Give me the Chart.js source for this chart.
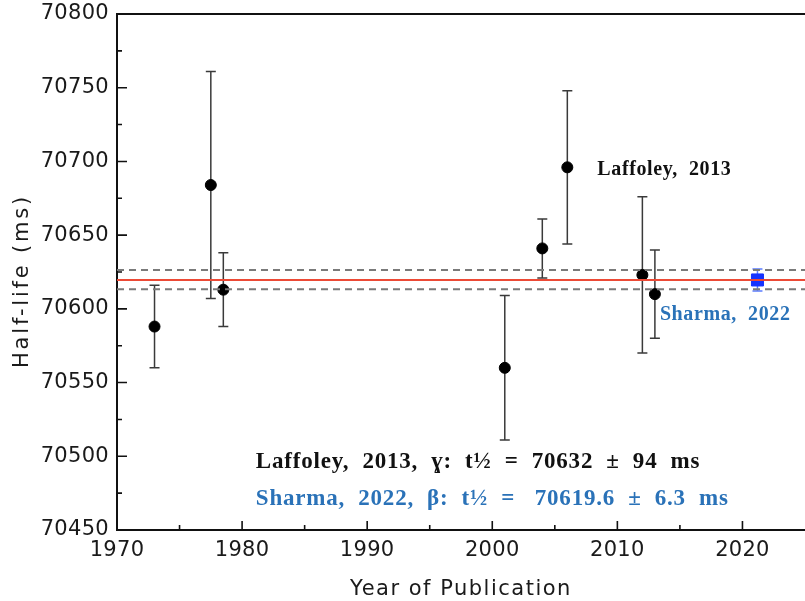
<!DOCTYPE html>
<html>
<head>
<meta charset="utf-8">
<script src="https://cdn.jsdelivr.net/npm/chart.js@4.4.0/dist/chart.umd.min.js"></script>
<style>
  html, body { margin:0; padding:0; background:#fff; }
  #wrap { width:805px; height:601px; position:relative; }
</style>
</head>
<body>
<div id="wrap"><canvas id="c"></canvas></div>
<script>
// measurements (year, half-life, 1-sigma)
const years      = [1973, 1977.5, 1978.5, 2001, 2004, 2006, 2012, 2013];
const halfLives  = [70588, 70684, 70613, 70560, 70641, 70696, 70623, 70610];
const errors     = [28, 77, 25, 49, 20, 52, 53, 30];

// new result
const sharmaYear  = [2021.2];
const sharmaValue = [70619.6];
const sharmaError = [7.5];

// average band
const avgValue = 70619.6;
const bandLow  = 70613.3;
const bandHigh = 70626.3;
const xRange   = [1970, 2025];

const xTicks = [1970,1975,1980,1985,1990,1995,2000,2005,2010,2015,2020,2025];
const yTicks = [70450,70475,70500,70525,70550,70575,70600,70625,70650,70675,70700,70725,70750,70775,70800];

const xTitle = 'Year of Publication';
const yTitle = 'Half-life (ms)';

const labels = [
  { text:'Laffoley,  2013', x:2008.4, y:70694.2, color:'#111', size:20, spacing:'0.6px' },
  { text:'Sharma,  2022', x:2013.4, y:70595.8, color:'#2a72b8', size:20, spacing:'0.6px' },
  { text:'Laffoley,  2013,  \u0263:  t\u00bd  =  70632  \u00b1  94  ms', x:1981.1, y:70496, color:'#111', size:23, spacing:'0.8px' },
  { text:'Sharma,  2022,  \u03b2:  t\u00bd  =   70619.6  \u00b1  6.3  ms', x:1981.1, y:70471, color:'#2a72b8', size:23, spacing:'0.8px' }
];

const errorBars = {
  id:'errorBars',
  beforeDatasetsDraw(chart) {
    const { ctx, scales:{x, y} } = chart;
    ctx.letterSpacing = '0px';
    const sets = [
      { xs:years, ys:halfLives, es:errors, color:'#3a3a3a' },
      { xs:sharmaYear, ys:sharmaValue, es:sharmaError, color:'#5b7cff' }
    ];
    ctx.save();
    sets.forEach(s => {
      ctx.strokeStyle = s.color; ctx.lineWidth = 1.5;
      s.xs.forEach((xv,i) => {
        const px = x.getPixelForValue(xv);
        const top = y.getPixelForValue(s.ys[i] + s.es[i]);
        const bot = y.getPixelForValue(s.ys[i] - s.es[i]);
        ctx.beginPath();
        ctx.moveTo(px, top); ctx.lineTo(px, bot);
        ctx.moveTo(px-5, top); ctx.lineTo(px+5, top);
        ctx.moveTo(px-5, bot); ctx.lineTo(px+5, bot);
        ctx.stroke();
      });
    });
    ctx.restore();
  }
};

const frame = {
  id:'frame',
  beforeDraw(chart) { chart.ctx.letterSpacing = '0.3px'; },
  afterDraw(chart) {
    const { ctx, chartArea:a, scales:{x, y} } = chart;
    ctx.save();
    ctx.strokeStyle = '#111'; ctx.lineWidth = 2;
    ctx.beginPath(); ctx.moveTo(a.left-1, a.top); ctx.lineTo(a.right, a.top); ctx.stroke();
    ctx.lineWidth = 1.6;
    ctx.beginPath();
    xTicks.forEach(v => {
      if (v === xRange[0] || v === xRange[1]) return;
      const px = x.getPixelForValue(v), len = v % 10 === 0 ? 9 : 5;
      ctx.moveTo(px, a.bottom); ctx.lineTo(px, a.bottom - len);
    });
    yTicks.forEach(v => {
      if (v === 70450 || v === 70800) return;
      const py = y.getPixelForValue(v), len = v % 50 === 0 ? 10 : 5;
      ctx.moveTo(a.left, py); ctx.lineTo(a.left + len, py);
    });
    ctx.stroke();

    // axis titles (drawn here for the wide letter spacing of the original)
    ctx.fillStyle = '#1a1a1a';
    ctx.textAlign = 'center'; ctx.textBaseline = 'middle';
    ctx.font = '21px "DejaVu Sans"';
    ctx.letterSpacing = '1.5px';
    ctx.fillText(xTitle, (a.left + a.right) / 2, 590);
    ctx.save();
    ctx.translate(23, (a.top + a.bottom) / 2 + 9);
    ctx.rotate(-Math.PI / 2);
    ctx.font = '21px "DejaVu Sans"';
    ctx.letterSpacing = '2.8px';
    ctx.fillText(yTitle, 0, 0);
    ctx.restore();

    // text annotations
    ctx.textBaseline = 'middle'; ctx.textAlign = 'left';
    labels.forEach(l => {
      ctx.font = 'bold ' + l.size + 'px "Liberation Serif"';
      ctx.letterSpacing = l.spacing;
      ctx.fillStyle = l.color;
      ctx.fillText(l.text, x.getPixelForValue(l.x), y.getPixelForValue(l.y));
    });
    ctx.letterSpacing = '0px';
    ctx.restore();
  }
};

new Chart(document.getElementById('c').getContext('2d'), {
  type:'scatter',
  data:{
    datasets:[
      { label:'band high', type:'line', data:xRange.map(v=>({x:v, y:bandHigh})), borderColor:'#7a7a7a', borderWidth:2, borderDash:[7,5], pointRadius:0 },
      { label:'band low', type:'line', data:xRange.map(v=>({x:v, y:bandLow})), borderColor:'#7a7a7a', borderWidth:2, borderDash:[7,5], pointRadius:0 },
      { label:'average', type:'line', data:xRange.map(v=>({x:v, y:avgValue})), borderColor:'#ec4a36', borderWidth:2, pointRadius:0 },
      { label:'measurements', data:years.map((v,i)=>({x:v, y:halfLives[i]})), backgroundColor:'#000', borderColor:'#000', pointRadius:5.5, pointHoverRadius:5.5 },
      { label:'Sharma 2022', data:sharmaYear.map((v,i)=>({x:v, y:sharmaValue[i]})), pointStyle:'rect', backgroundColor:'#1533ff', borderColor:'#1533ff', pointRadius:8.5, pointHoverRadius:8.5 }
    ]
  },
  options:{
    responsive:true, maintainAspectRatio:false, animation:false,
    layout:{ autoPadding:false, padding:{ top:14, right:0, bottom:0, left:0 } },
    plugins:{ legend:{ display:false }, tooltip:{ enabled:false } },
    scales:{
      x:{
        type:'linear', min:xRange[0], max:xRange[1],
        afterBuildTicks: s => { s.ticks = xTicks.map(v => ({ value:v })); },
        afterFit: s => { s.height = 71; s.paddingLeft = 0; s.paddingRight = 0; },
        grid:{ drawOnChartArea:false, drawTicks:false },
        border:{ display:true, color:'#111', width:2 },
        ticks:{ autoSkip:false, maxRotation:0, padding:8, color:'#1a1a1a', font:{ family:'"DejaVu Sans"', size:21 },
          callback: v => (v % 10 === 0 && v <= 2020) ? String(v) : '' },
        title:{ display:false, text:xTitle }
      },
      y:{
        min:70450, max:70800,
        afterBuildTicks: s => { s.ticks = yTicks.map(v => ({ value:v })); },
        afterFit: s => { s.width = 117; s.paddingTop = 0; s.paddingBottom = 0; },
        grid:{ drawOnChartArea:false, drawTicks:false },
        border:{ display:true, color:'#111', width:2 },
        ticks:{ autoSkip:false, padding:8, color:'#1a1a1a', font:{ family:'"DejaVu Sans"', size:21 },
          callback: v => v % 50 === 0 ? String(v) : '' },
        title:{ display:false, text:yTitle }
      }
    }
  },
  plugins:[errorBars, frame]
});
</script>
</body>
</html>
